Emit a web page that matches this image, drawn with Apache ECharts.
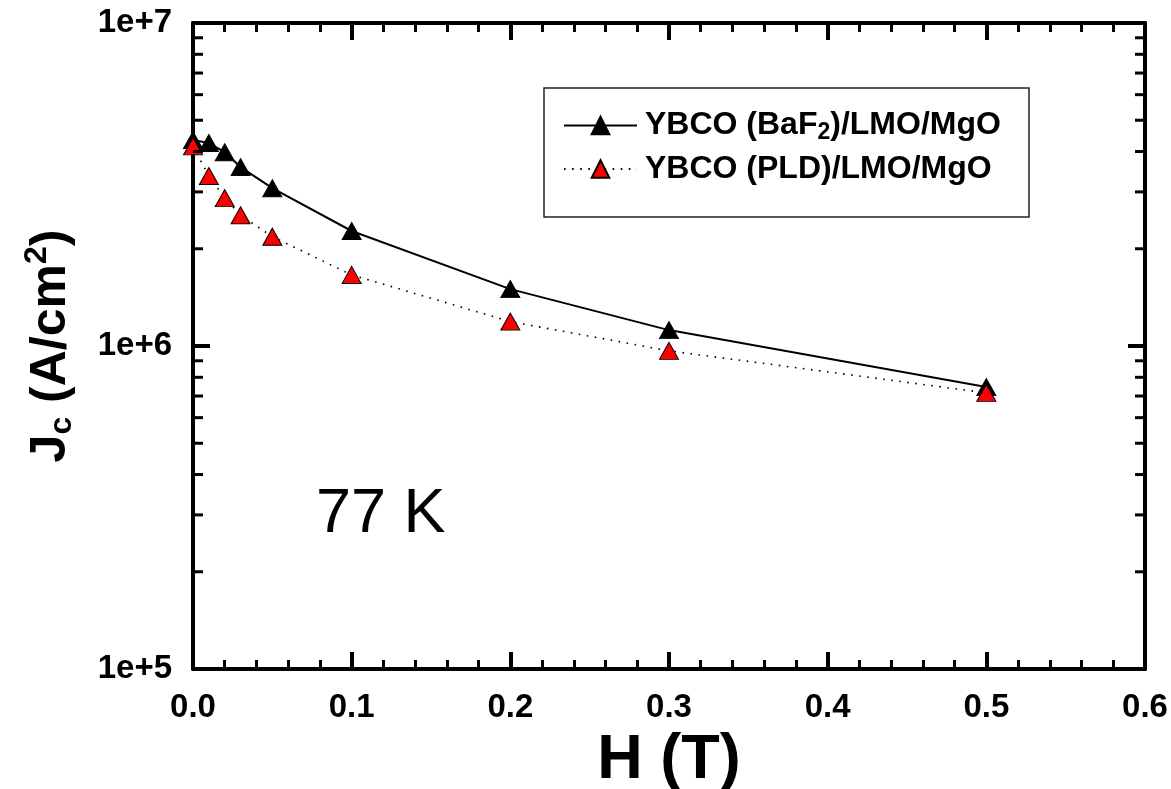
<!DOCTYPE html>
<html>
<head>
<meta charset="utf-8">
<script src="https://cdn.jsdelivr.net/npm/echarts@6/dist/echarts.min.js"></script>
<style>
  html, body { margin: 0; padding: 0; background: #ffffff; }
  #chart { width: 1171px; height: 789px; }
</style>
</head>
<body>
<div id="chart"></div>
<script>
// Applied field (T)
const fieldT = [0, 0.01, 0.02, 0.03, 0.05, 0.1, 0.2, 0.3, 0.5];
// Critical current density (A/cm^2) at 77 K
const jcBaF2 = [4.34e6, 4.25e6, 3.98e6, 3.58e6, 3.08e6, 2.27e6, 1.50e6, 1.12e6, 7.46e5];
const jcPLD  = [4.15e6, 3.36e6, 2.87e6, 2.54e6, 2.18e6, 1.66e6, 1.19e6, 9.66e5, 7.16e5];
const seriesNames = ['YBCO (BaF2)/LMO/MgO', 'YBCO (PLD)/LMO/MgO'];
// Axis ranges and minor (log) tick values
const xRange = [0, 0.6];
const yRange = [1e5, 1e7];
const yMinorTicks = [2e5, 3e5, 4e5, 5e5, 6e5, 7e5, 8e5, 9e5, 2e6, 3e6, 4e6, 5e6, 6e6, 7e6, 8e6, 9e6];

const FONT = '"Liberation Sans", Arial, sans-serif';

const chart = echarts.init(document.getElementById('chart'), null, { renderer: 'canvas' });

const axisLineStyle = { color: '#000', width: 4 };
const majorTick = { show: true, inside: true, length: 17, lineStyle: { color: '#000', width: 4 } };

const baseX = {
  type: 'value', min: xRange[0], max: xRange[1], interval: 0.1,
  axisLine: { show: true, onZero: false, lineStyle: axisLineStyle },
  axisTick: majorTick,
  minorTick: { show: true, splitNumber: 5, length: 9, lineStyle: { color: '#000', width: 3 } },
  splitLine: { show: false }
};
const baseY = {
  type: 'log', logBase: 10, min: yRange[0], max: yRange[1],
  axisLine: { show: true, onZero: false, lineStyle: axisLineStyle },
  axisTick: majorTick,
  splitLine: { show: false }
};

function pairs(xs, ys) { return xs.map((x, i) => [x, ys[i]]); }

// "BaF2" -> rich text with a subscript 2
function legendLabel(name) {
  const parts = name.split('BaF2');
  if (parts.length === 1) return '{t|' + name + '}';
  return '{t|' + parts[0] + 'BaF}{sub|2}{t|' + parts[1] + '}';
}

const option = {
  backgroundColor: '#ffffff',
  animation: false,
  textStyle: { fontFamily: FONT },
  grid: { left: 193, right: 26, top: 23, bottom: 120, containLabel: false, outerBoundsMode: 'none' },
  xAxis: [
    Object.assign({}, baseX, {
      position: 'bottom',
      name: 'H (T)', nameLocation: 'middle', nameGap: 60,
      nameTextStyle: { fontFamily: FONT, fontWeight: 'bold', fontSize: 63, color: '#000' },
      axisLabel: {
        show: true, margin: 22, color: '#000', fontFamily: FONT, fontWeight: 'bold', fontSize: 33,
        formatter: v => v.toFixed(1)
      }
    }),
    Object.assign({}, baseX, { position: 'top', axisLabel: { show: false } })
  ],
  yAxis: [
    Object.assign({}, baseY, {
      position: 'left',
      name: '{m|J}{sub|c}{m| (A/cm}{sup|2}{m|)}', nameLocation: 'middle', nameGap: 115, nameRotate: 90,
      nameTextStyle: {
        color: '#000', fontFamily: FONT, fontWeight: 'bold',
        rich: {
          m:   { fontFamily: FONT, fontWeight: 'bold', fontSize: 50, lineHeight: 54, color: '#000', verticalAlign: 'middle' },
          sub: { fontFamily: FONT, fontWeight: 'bold', fontSize: 32, lineHeight: 32, color: '#000', verticalAlign: 'middle', padding: [22, 0, 0, 0] },
          sup: { fontFamily: FONT, fontWeight: 'bold', fontSize: 32, lineHeight: 32, color: '#000', verticalAlign: 'middle', padding: [0, 0, 28, 0] }
        }
      },
      axisLabel: {
        show: true, margin: 21, color: '#000', fontFamily: FONT, fontWeight: 'bold', fontSize: 33,
        formatter: v => '1e+' + Math.round(Math.log10(v))
      }
    }),
    Object.assign({}, baseY, { position: 'right', axisLabel: { show: false } })
  ],
  legend: {
    data: seriesNames,
    orient: 'vertical',
    left: 563, top: 107,
    padding: 0,
    itemWidth: 73, itemHeight: 22,
    itemGap: 9,
    selectedMode: false,
    formatter: legendLabel,
    textStyle: {
      color: '#000', fontFamily: FONT, fontWeight: 'bold', fontSize: 32,
      padding: [0, 0, 0, 3],
      rich: {
        t:   { fontFamily: FONT, fontWeight: 'bold', fontSize: 32, lineHeight: 34, color: '#000', verticalAlign: 'middle' },
        sub: { fontFamily: FONT, fontWeight: 'bold', fontSize: 23, lineHeight: 22, color: '#000', verticalAlign: 'middle', padding: [14, 0, 0, 0] }
      }
    }
  },
  graphic: [
    { type: 'rect', shape: { x: 544, y: 88, width: 485, height: 129 },
      style: { fill: 'none', stroke: '#222', lineWidth: 1.5 }, z: 1, silent: true },
    { type: 'text', left: 316, top: 483,
      style: { text: '77 K', fontFamily: FONT, fontSize: 63, fill: '#000' }, silent: true }
  ],
  series: [
    {
      name: seriesNames[0], type: 'line', xAxisIndex: 0, yAxisIndex: 0,
      data: pairs(fieldT, jcBaF2),
      symbol: 'triangle', symbolSize: [19, 17],
      itemStyle: { color: '#000', borderColor: '#000', borderWidth: 1 },
      lineStyle: { color: '#000', width: 2, type: 'solid' },
      z: 3
    },
    {
      name: seriesNames[1], type: 'line', xAxisIndex: 0, yAxisIndex: 0,
      data: pairs(fieldT, jcPLD),
      symbol: 'triangle', symbolSize: [19, 17],
      itemStyle: { color: '#ff0000', borderColor: '#000', borderWidth: 1 },
      lineStyle: { color: '#000', width: 1.6, type: [1.6, 6.5] },
      z: 4
    },
    {
      // minor ticks of the logarithmic y axes, on both the left and right frame
      type: 'custom', xAxisIndex: 0, yAxisIndex: 0, silent: true, z: 5,
      data: yMinorTicks.map(v => [0, v]),
      renderItem: (params, api) => {
        const cs = params.coordSys;
        const y = api.coord([0, api.value(1)])[1];
        const st = { stroke: '#000', lineWidth: 3 };
        return {
          type: 'group',
          children: [
            { type: 'line', shape: { x1: cs.x, y1: y, x2: cs.x + 10, y2: y }, style: st },
            { type: 'line', shape: { x1: cs.x + cs.width - 10, y1: y, x2: cs.x + cs.width, y2: y }, style: st }
          ]
        };
      }
    }
  ]
};

chart.setOption(option);
</script>
</body>
</html>
